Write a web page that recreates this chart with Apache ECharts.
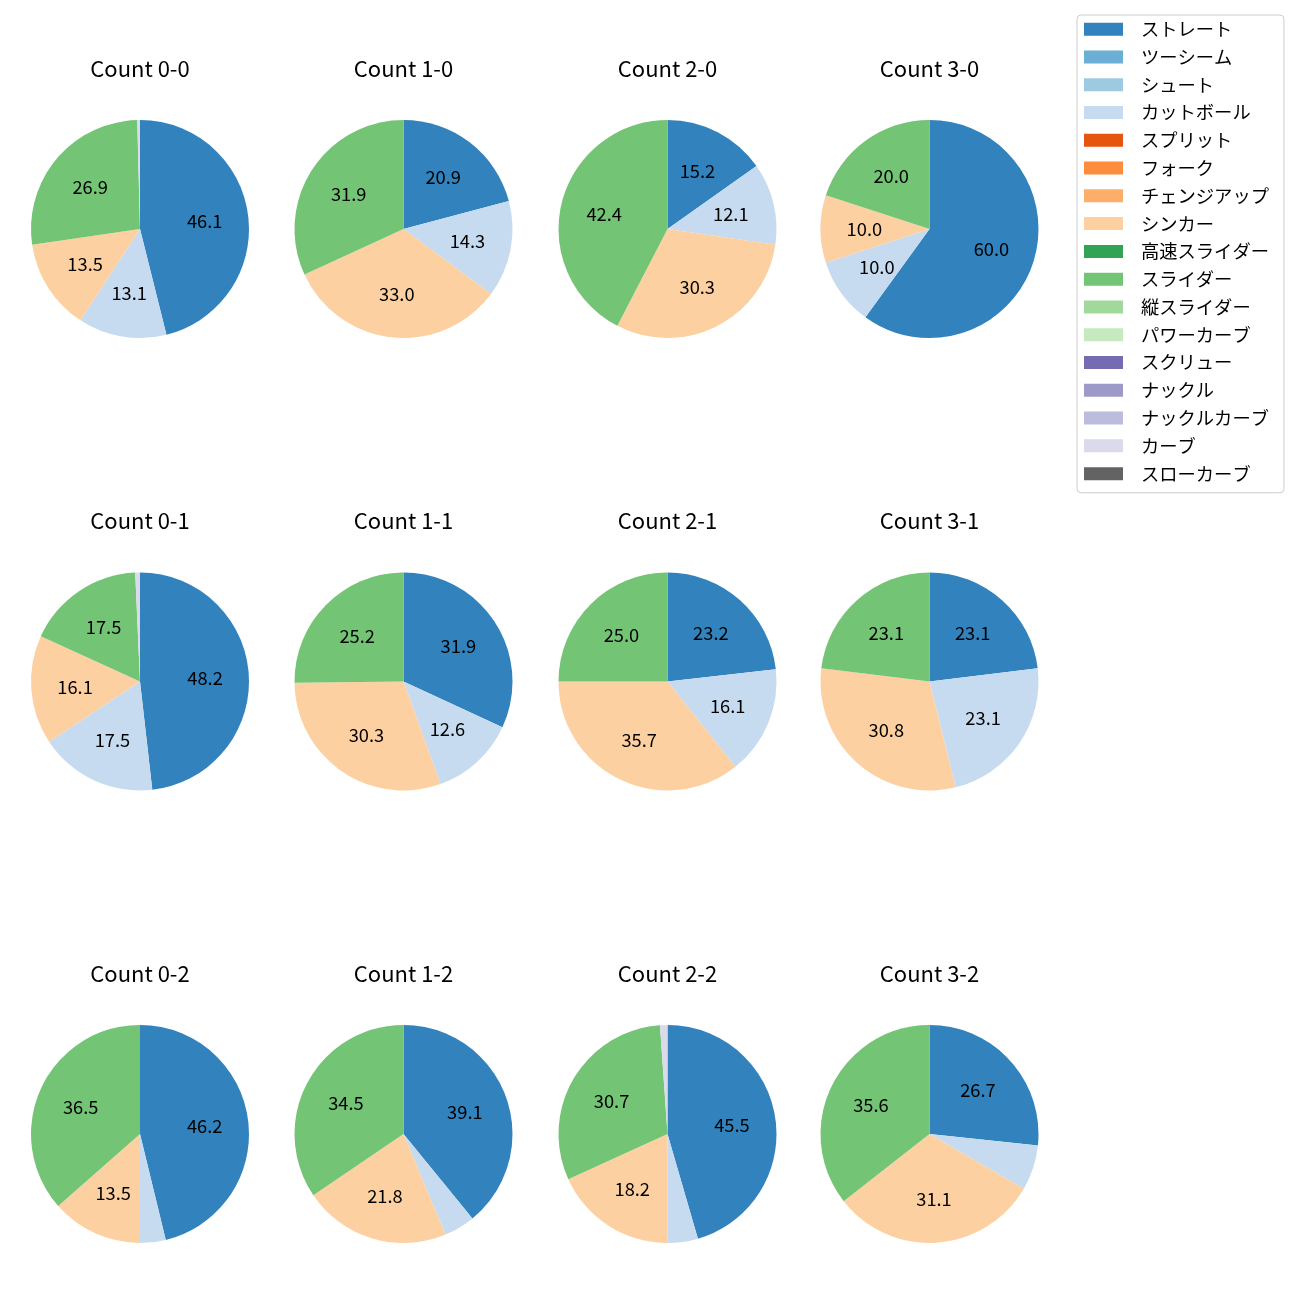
<!DOCTYPE html>
<html>
<head>
<meta charset="utf-8">
<script src="https://cdn.jsdelivr.net/npm/echarts@6/dist/echarts.min.js"></script>
<style>
html,body{margin:0;padding:0;background:#fff;}
#chart{width:1300px;height:1300px;}
</style>
</head>
<body>
<div id="chart"></div>
<script>
// ---- data ----
const pitchTypes = ['ストレート','ツーシーム','シュート','カットボール','スプリット','フォーク','チェンジアップ','シンカー','高速スライダー','スライダー','縦スライダー','パワーカーブ','スクリュー','ナックル','ナックルカーブ','カーブ','スローカーブ'];
const pitchColors = ['#3182bd','#6baed6','#9ecae1','#c6dbef','#e6550d','#fd8d3c','#fdae6b','#fdd0a2','#31a354','#74c476','#a1d99b','#c7e9c0','#756bb1','#9e9ac8','#bcbddc','#dadaeb','#636363'];
// pitch types that appear in the pies, in drawing order
const usedTypes = ['ストレート','カットボール','シンカー','スライダー','カーブ'];
const countTitles = ['Count 0-0','Count 1-0','Count 2-0','Count 3-0','Count 0-1','Count 1-1','Count 2-1','Count 3-1','Count 0-2','Count 1-2','Count 2-2','Count 3-2'];
const count00 = [46.1, 13.1, 13.5, 26.9, 0.4];
const count10 = [20.9, 14.3, 33.0, 31.9, 0];
const count20 = [15.2, 12.1, 30.3, 42.4, 0];
const count30 = [60.0, 10.0, 10.0, 20.0, 0];
const count01 = [48.2, 17.5, 16.1, 17.5, 0.7];
const count11 = [31.9, 12.6, 30.3, 25.2, 0];
const count21 = [23.2, 16.1, 35.7, 25.0, 0];
const count31 = [23.1, 23.1, 30.8, 23.1, 0];
const count02 = [46.2, 3.8, 13.5, 36.5, 0];
const count12 = [39.1, 4.6, 21.8, 34.5, 0];
const count22 = [45.5, 4.5, 18.2, 30.7, 1.1];
const count32 = [26.7, 6.7, 31.1, 35.6, 0];
const countValues = [count00,count10,count20,count30,count01,count11,count21,count31,count02,count12,count22,count32];

// ---- layout ----
const colX = [140, 403.5, 667.5, 929.5];
const rowY = [229, 681.5, 1134];
const titleY = [68.5, 521, 973.5];
const R = 109;
const labelThreshold = 8;
const FONT = '"Noto Sans CJK JP", "Noto Sans", sans-serif';

const colorOf = name => pitchColors[pitchTypes.indexOf(name)];

const series = [];
// legend provider (all pitch types, invisible)
series.push({
  type: 'pie', center: [-200, -200], radius: [0, 0], silent: true,
  label: {show: false}, labelLine: {show: false},
  data: pitchTypes.map(n => ({name: n, value: 1, itemStyle: {color: colorOf(n)}}))
});
const titles = [];
countValues.forEach((vals, i) => {
  const cx = colX[i % 4], cy = rowY[Math.floor(i / 4)];
  const data = [];
  vals.forEach((v, j) => { if (v > 0) data.push({name: usedTypes[j], value: v}); });
  series.push({
    type: 'pie', center: [cx, cy], radius: [0, R], startAngle: 90, clockwise: true,
    silent: true, animation: false,
    itemStyle: {borderWidth: 0},
    label: {show: false}, labelLine: {show: false},
    data: data.map(d => ({name: d.name, value: d.value, itemStyle: {color: colorOf(d.name)}}))
  });
  // label-only ring so labels sit near 0.6 R
  series.push({
    type: 'pie', center: [cx, cy], radius: [R * 0.14, R], startAngle: 90, clockwise: true,
    silent: true, animation: false,
    itemStyle: {color: 'rgba(0,0,0,0)', borderWidth: 0},
    label: {
      show: true, position: 'inside', color: '#000', fontSize: 18.3, fontFamily: FONT,
      padding: [0, 0, 7, 0],
      formatter: p => (p.value >= labelThreshold ? p.value.toFixed(1) : '')
    },
    labelLine: {show: false},
    data: data.map(d => ({name: d.name, value: d.value}))
  });
  titles.push({
    text: countTitles[i], left: cx, top: titleY[Math.floor(i / 4)],
    textAlign: 'center', textVerticalAlign: 'middle', padding: 0,
    textStyle: {fontSize: 22, fontWeight: 'normal', color: '#000', fontFamily: FONT}
  });
});

const chart = echarts.init(document.getElementById('chart'), null, {renderer: 'canvas'});
chart.setOption({
  animation: false,
  backgroundColor: '#fff',
  title: titles,
  legend: {
    orient: 'vertical', left: 1077, top: 15,
    data: pitchTypes,
    icon: 'rect', itemWidth: 39, itemHeight: 13, itemGap: 9.5,
    padding: [5, 15, 10, 7],
    borderColor: '#cccccc', borderWidth: 1, borderRadius: 4,
    backgroundColor: 'rgba(255,255,255,0.8)',
    selectedMode: false,
    textStyle: {fontSize: 18.3, lineHeight: 18, color: '#000', fontFamily: FONT, padding: [0, 0, 0, 13]}
  },
  series: series
});
</script>
</body>
</html>
